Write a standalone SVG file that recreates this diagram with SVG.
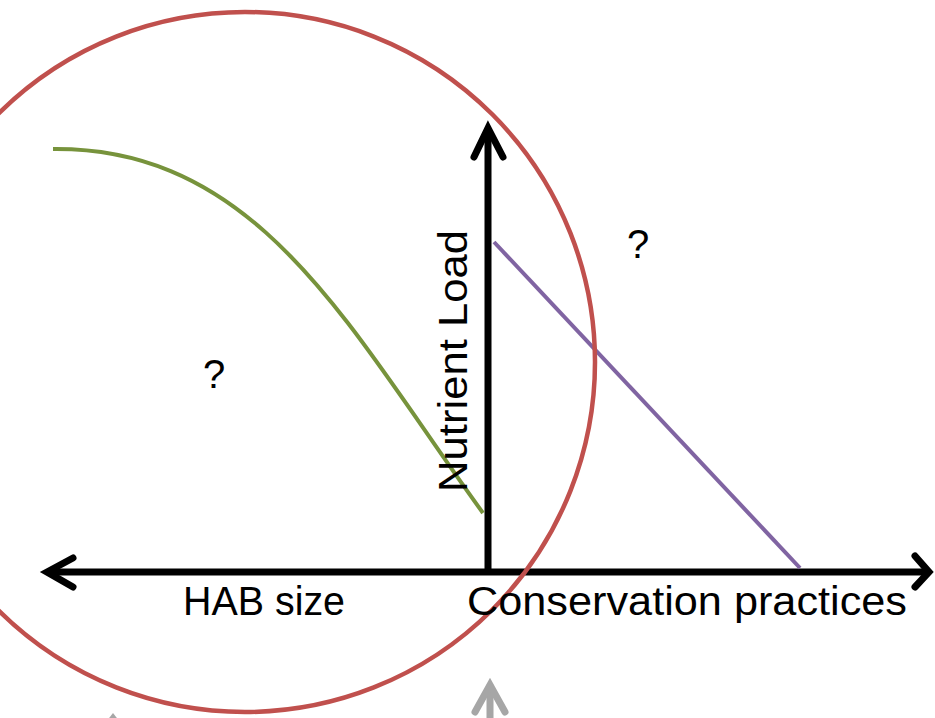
<svg xmlns="http://www.w3.org/2000/svg" width="935" height="718" viewBox="0 0 935 718">
<style>
.lbl{font-family:"Liberation Sans",Arial,sans-serif;font-size:40px;fill:#000}
.ax{stroke:#000;stroke-width:7;fill:none;stroke-linecap:butt}
.head{stroke:#000;stroke-width:7;fill:none;stroke-linecap:round;stroke-linejoin:miter}
.gray{stroke:#a6a6a6;stroke-width:7;fill:none;stroke-linecap:round}
</style>
<rect width="935" height="718" fill="#fff"/>
<g id="connectors">
<line class="ax" x1="488" y1="572" x2="488" y2="128"/>
<polyline class="head" points="474,157 488,128 503,157"/>
<line class="ax" x1="47" y1="572" x2="929" y2="572"/>
<polyline class="head" points="73,558 47,572 73,587"/>
<polyline class="head" points="915,556 929,572 915,587"/>
<line class="gray" x1="490" y1="690" x2="490" y2="730"/>
<polyline class="gray" points="475,712 490,685 505,712" fill="#a6a6a6"/>
<polygon points="113,713 106,722 120,722" fill="#a6a6a6"/>
</g>
<g id="curve-green"><path d="M53,149 C260,147 350,330 483,513" stroke="#77933c" stroke-width="4" fill="none"/></g>
<g id="line-purple"><line x1="494" y1="242" x2="800" y2="568" stroke="#8064a2" stroke-width="4"/></g>
<g id="circle"><circle cx="245" cy="362" r="350" stroke="#c0504d" stroke-width="4.5" fill="none"/></g>
<g id="labels">
<text class="lbl" x="183" y="615" textLength="162" lengthAdjust="spacingAndGlyphs">HAB size</text>
<text class="lbl" x="467" y="615" textLength="440" lengthAdjust="spacingAndGlyphs">Conservation practices</text>
<text class="lbl" transform="translate(467,492) rotate(-90)" textLength="262" lengthAdjust="spacingAndGlyphs">Nutrient Load</text>
<text class="lbl" x="203" y="388" font-size="36">?</text>
<text class="lbl" x="627" y="258" font-size="36">?</text>
</g>
</svg>
